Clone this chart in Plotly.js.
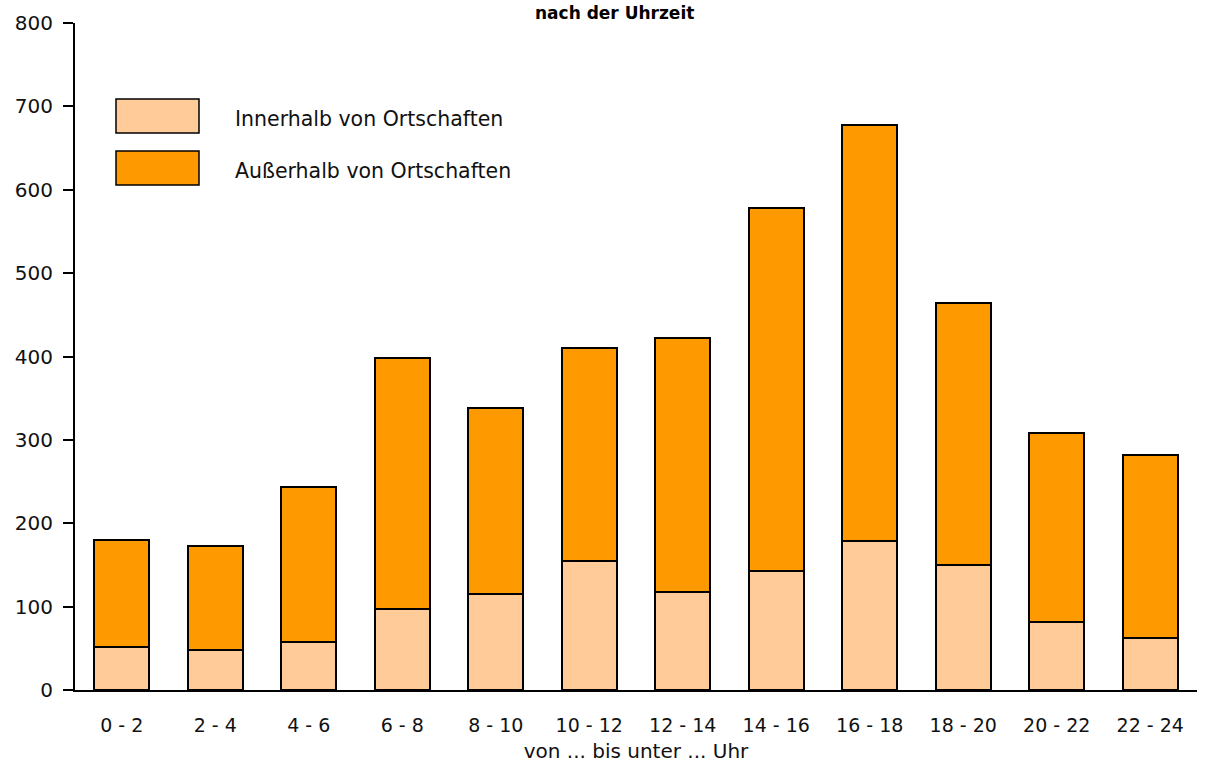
<!DOCTYPE html>
<html>
<head>
<meta charset="utf-8">
<script src="https://cdn.plot.ly/plotly-3.0.1.min.js"></script>
<style>html,body{margin:0;padding:0;background:#fff;}#chart{width:1207px;height:776px;}</style>
</head>
<body>
<div id="chart"></div>
<script>
const categories = ["0 - 2","2 - 4","4 - 6","6 - 8","8 - 10","10 - 12","12 - 14","14 - 16","16 - 18","18 - 20","20 - 22","22 - 24"];
const innerhalb = [52, 48, 58, 97, 115, 155, 118, 143, 179, 150, 82, 62];
const ausserhalb = [128, 125, 186, 301, 223, 255, 304, 435, 499, 314, 226, 220];
const seriesNames = ["Innerhalb von Ortschaften", "Außerhalb von Ortschaften"];
const colors = ["#FFCC99", "#FF9900"];
const yTicks = [0, 100, 200, 300, 400, 500, 600, 700, 800];

const FONT = "DejaVu Sans, Verdana, sans-serif";

const traces = [innerhalb, ausserhalb].map((vals, i) => ({
  type: "bar",
  x: categories,
  y: vals,
  name: seriesNames[i],
  marker: {color: colors[i], line: {color: "#000", width: 2}},
  hoverinfo: "x+y+name"
}));

const W = 1207, H = 776, L = 75, R = 10, T = 23, B = 86;
const pw = W - L - R, ph = H - T - B;
function px(x) { return (x - L) / pw; }
function py(y) { return (H - B - y) / ph; }

const shapes = [];
const annotations = [];
seriesNames.forEach((n, i) => {
  const top = 99 + i * 52;
  shapes.push({type: "rect", xref: "paper", yref: "paper",
    x0: px(116), x1: px(199), y0: py(top + 34), y1: py(top),
    fillcolor: colors[i], line: {color: "#000", width: 1.5}});
  annotations.push({xref: "paper", yref: "paper", x: px(233), y: py(top + 20),
    xanchor: "left", yanchor: "middle", text: n, showarrow: false,
    font: {family: FONT, size: 20.5, color: "#111"}});
});
annotations.push({xref: "paper", yref: "paper", x: px(614), y: py(1),
  xanchor: "center", yanchor: "top", text: "<b>nach der Uhrzeit</b>", showarrow: false,
  font: {family: FONT, size: 17, color: "#000"}});

const layout = {
  width: W, height: H,
  margin: {l: L, r: R, t: T, b: B, pad: 0},
  paper_bgcolor: "#fff", plot_bgcolor: "#fff",
  barmode: "stack",
  bargap: 0.41,
  showlegend: false,
  font: {family: FONT, size: 19, color: "#111"},
  xaxis: {
    type: "category",
    showline: true, linecolor: "#000", linewidth: 2,
    ticks: "", showgrid: false, zeroline: false,
    tickfont: {family: FONT, size: 19, color: "#111"},
    ticklabelstandoff: 17,
    title: {text: "von ... bis unter ... Uhr", font: {family: FONT, size: 20, color: "#111"}, standoff: 9}
  },
  yaxis: {
    range: [0, 800], tickvals: yTicks, ticktext: yTicks.map(String),
    showline: true, linecolor: "#000", linewidth: 2,
    ticks: "outside", ticklen: 10, tickwidth: 2, tickcolor: "#000",
    showgrid: false, zeroline: false,
    tickfont: {family: FONT, size: 20, color: "#111"},
    ticklabelstandoff: 6
  },
  shapes: shapes,
  annotations: annotations
};

Plotly.newPlot("chart", traces, layout, {displayModeBar: false, staticPlot: true});
</script>
</body>
</html>
